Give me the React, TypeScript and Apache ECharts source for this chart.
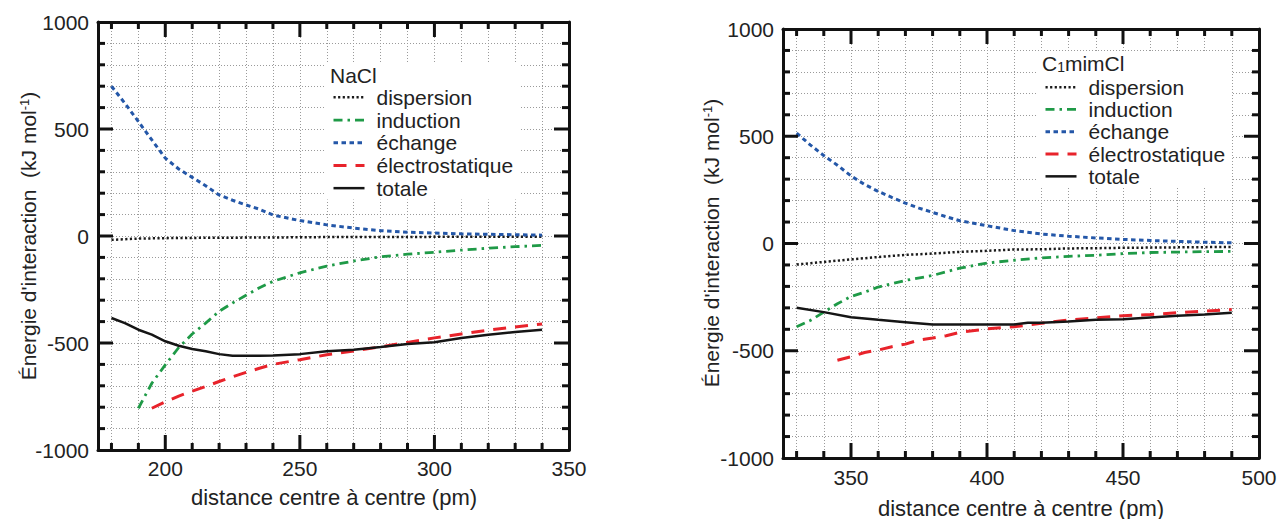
import { useEffect, useRef } from 'react';
import * as echarts from 'echarts';

const FONT = '"Liberation Sans", Arial, Helvetica, sans-serif';

const seriesNames = ['dispersion', 'induction', 'échange', 'électrostatique', 'totale'];

const leftXRange = [175, 350];
const rightXRange = [325, 500];
const yRange = [-1000, 1000];
const leftMajorTicks = [200, 250, 300, 350];
const leftMinorTicks = [180, 190, 200, 210, 220, 230, 240, 250, 260, 270, 280, 290, 300, 310, 320, 330, 340];
const rightMajorTicks = [350, 400, 450, 500];
const rightMinorTicks = [330, 340, 350, 360, 370, 380, 390, 400, 410, 420, 430, 440, 450, 460, 470, 480, 490];
const yMinorTicks = [-900, -800, -700, -600, -500, -400, -300, -200, -100, 0, 100, 200, 300, 400, 500, 600, 700, 800, 900];
const yMajorTicks = [-500, 0, 500];

const naclDispX = [180, 190, 200, 220, 240, 260, 280, 300, 320, 340];
const naclDisp = [-18, -12, -10, -8, -7, -5, -5, -4, -4, -3];
const naclIndX = [190, 195, 200, 205, 210, 215, 220, 225, 230, 235, 240, 250, 260, 270, 280, 290, 300, 310, 320, 330, 340];
const naclInd = [-805, -688, -602, -521, -458, -407, -352, -313, -277, -242, -212, -172, -141, -117, -97, -85, -76, -66, -57, -50, -44];
const naclExchX = [180, 185, 190, 195, 200, 205, 210, 215, 220, 225, 230, 235, 240, 250, 260, 270, 280, 290, 300, 310, 320, 330, 340];
const naclExch = [700, 620, 535, 449, 364, 313, 274, 235, 192, 167, 145, 125, 98, 72, 52, 37, 25, 18, 14, 10, 8, 6, 4];
const naclElecX = [195, 200, 205, 210, 215, 220, 225, 230, 235, 240, 250, 260, 270, 280, 290, 300, 310, 320, 330, 340];
const naclElec = [-805, -775, -748, -725, -703, -680, -658, -637, -618, -600, -578, -555, -537, -518, -497, -476, -458, -440, -425, -411];
const naclTotX = [180, 185, 190, 195, 200, 205, 210, 215, 220, 225, 230, 235, 240, 250, 260, 270, 280, 290, 300, 310, 320, 330, 340];
const naclTot = [-383, -407, -438, -461, -492, -513, -528, -539, -552, -560, -560, -560, -558, -552, -539, -531, -519, -505, -496, -477, -461, -449, -438];

const mimDispX = [330, 340, 350, 360, 370, 380, 390, 400, 410, 420, 430, 440, 450, 460, 470, 480, 490];
const mimDisp = [-98, -86, -74, -63, -53, -47, -39, -34, -28, -27, -23, -22, -20, -19, -18, -17, -16];
const mimIndX = [330, 335, 340, 345, 350, 355, 360, 370, 380, 390, 400, 410, 420, 430, 440, 450, 460, 470, 480, 490];
const mimInd = [-388, -359, -320, -281, -247, -227, -203, -172, -149, -115, -91, -78, -67, -60, -55, -47, -42, -40, -38, -37];
const mimExchX = [330, 335, 340, 345, 350, 355, 360, 365, 370, 375, 380, 385, 390, 400, 410, 420, 430, 440, 450, 460, 470, 480, 490];
const mimExch = [515, 460, 410, 365, 315, 275, 243, 215, 188, 165, 145, 125, 106, 83, 60, 44, 34, 26, 19, 14, 10, 6, 3];
const mimElecX = [345, 350, 355, 360, 365, 370, 375, 380, 385, 390, 400, 410, 420, 430, 440, 450, 460, 470, 480, 490];
const mimElec = [-544, -528, -508, -497, -481, -469, -450, -441, -430, -414, -398, -388, -372, -356, -347, -337, -331, -323, -315, -308];
const mimTotX = [330, 340, 350, 360, 370, 380, 390, 400, 410, 415, 420, 430, 440, 450, 460, 470, 480, 490];
const mimTot = [-300, -320, -344, -356, -367, -378, -378, -378, -378, -370, -370, -364, -356, -353, -345, -337, -331, -323];

const lineStyles: Record<string, any> = {
  dispersion: { color: '#1a1a1a', width: 2.5, type: [2.2, 2.4] },
  induction: { color: '#1f9a47', width: 2.8, type: [9, 5, 2.5, 5] },
  'échange': { color: '#2457a8', width: 3, type: [4.5, 3.5] },
  'électrostatique': { color: '#e8232b', width: 3, type: [13, 9] },
  totale: { color: '#151515', width: 2.5, type: 'solid' },
};

const zip = (xs: number[], ys: number[]) => xs.map((x, i) => [x, ys[i]]);

const gridLine = () => ({ color: '#9a9a9a', width: 1, type: [1, 2] });
const frameColor = '#111';
const frameWidth = 3;
const MAJOR_LEN = 15;
const MINOR_LEN = 7;

function xAxes(gi: number, range: number[], majors: number[], minors: number[], labelMargin: number) {
  const base = { type: 'value', gridIndex: gi, min: range[0], max: range[1] };
  return [
    {
      ...base, position: 'bottom',
      axisLine: { show: true, onZero: false, lineStyle: { color: frameColor, width: frameWidth } },
      axisTick: { show: false, customValues: majors },
      axisLabel: { show: true, customValues: majors, fontSize: 21, fontFamily: FONT, color: '#222', margin: labelMargin },
      splitLine: { show: false },
    },
    {
      ...base, position: 'bottom',
      axisLine: { show: false, onZero: false },
      axisTick: { show: false, customValues: minors },
      axisLabel: { show: false },
      splitLine: { show: true, lineStyle: gridLine() },
    },
    {
      ...base, position: 'top',
      axisLine: { show: true, onZero: false, lineStyle: { color: frameColor, width: frameWidth } },
      axisTick: { show: false },
      axisLabel: { show: false },
      splitLine: { show: false },
    },
  ];
}

function yAxes(gi: number) {
  const base = { type: 'value', gridIndex: gi, min: yRange[0], max: yRange[1], interval: 500 };
  return [
    {
      ...base, position: 'left',
      axisLine: { show: true, onZero: false, lineStyle: { color: frameColor, width: frameWidth } },
      axisTick: { show: false },
      axisLabel: { show: true, fontSize: 21, fontFamily: FONT, color: '#222', margin: 9, formatter: (v: number) => String(v) },
      splitLine: { show: true, lineStyle: gridLine() },
      minorSplitLine: { show: true, lineStyle: gridLine() },
    },
    {
      ...base, position: 'right',
      axisLine: { show: true, onZero: false, lineStyle: { color: frameColor, width: frameWidth } },
      axisTick: { show: false },
      axisLabel: { show: false },
      splitLine: { show: false },
    },
  ];
}

function makeSeries(gi: number, sets: [number[], number[]][]) {
  return seriesNames.map((name, k) => {
    const st = lineStyles[name];
    return {
      type: 'line',
      name,
      xAxisIndex: gi * 3,
      yAxisIndex: gi * 2,
      data: zip(sets[k][0], sets[k][1]),
      symbol: 'none',
      silent: true,
      z: 3,
      lineStyle: { color: st.color, width: st.width, type: st.type, cap: 'butt' },
      itemStyle: { color: st.color },
    };
  });
}

function makeLegend(left: number, top: number, padTop: number, lh: number) {
  return {
    orient: 'vertical',
    left,
    top,
    padding: [padTop, 6, 0, 6],
    backgroundColor: '#fff',
    itemWidth: 31,
    itemHeight: 14,
    itemGap: 0,
    selectedMode: false,
    z: 5,
    textStyle: { fontSize: 21, fontFamily: FONT, color: '#222', lineHeight: lh, padding: [0, 0, 0, 7] },
    data: seriesNames.map((n) => ({
      name: n,
      itemStyle: { opacity: 0 },
      lineStyle: { color: lineStyles[n].color, width: lineStyles[n].width, type: lineStyles[n].type },
    })),
  };
}

const titleStyle = { fontSize: 22, fontFamily: FONT, fill: '#222', align: 'center', verticalAlign: 'middle' };
const yTitleStyle = { fontSize: 21, fontFamily: FONT, fill: '#222', align: 'center', verticalAlign: 'middle' };
const yTitle = "Énergie d'interaction  (kJ mol{sup|-1})";
const supRich = { sup: { fontSize: 13, fontFamily: FONT, fill: '#222', verticalAlign: 'top' } };

const textGraphics = [
  { type: 'text', z: 20, x: 330, y: 75, style: { text: 'NaCl', fontSize: 21, fontFamily: FONT, fill: '#222', align: 'left', verticalAlign: 'middle' } },
  {
    type: 'text', z: 20, x: 1042, y: 63,
    style: {
      text: 'C{sub|1}mimCl', fontSize: 21, fontFamily: FONT, fill: '#222', align: 'left', verticalAlign: 'middle',
      rich: { sub: { fontSize: 14, fontFamily: FONT, fill: '#222', verticalAlign: 'bottom' } },
    },
  },
  { type: 'text', z: 20, x: 334, y: 497, style: { ...titleStyle, text: 'distance centre à centre (pm)' } },
  { type: 'text', z: 20, x: 1021, y: 508, style: { ...titleStyle, text: 'distance centre à centre (pm)' } },
  { type: 'text', z: 20, x: 28, y: 236, rotation: Math.PI / 2, style: { ...yTitleStyle, text: yTitle, rich: supRich } },
  { type: 'text', z: 20, x: 711, y: 243, rotation: Math.PI / 2, style: { ...yTitleStyle, text: yTitle, rich: supRich } },
];

// inward tick marks on the four sides, positioned with the chart's own scales
function tickGraphics(chart: any, gi: number, xRange: number[], xMinors: number[], xMajors: number[]) {
  const finder = { xAxisIndex: gi * 3, yAxisIndex: gi * 2 };
  const out: any[] = [];
  const w = 3;
  const rect = (x: number, y: number, width: number, height: number) => ({
    type: 'rect', z: 30,
    shape: { x, y, width, height },
    style: { fill: frameColor },
  });
  xMinors.forEach((v) => {
    const len = xMajors.includes(v) ? MAJOR_LEN : MINOR_LEN;
    const b = chart.convertToPixel(finder, [v, yRange[0]]);
    const t = chart.convertToPixel(finder, [v, yRange[1]]);
    out.push(rect(b[0] - w / 2, b[1] - len, w, len));
    out.push(rect(t[0] - w / 2, t[1], w, len));
  });
  yMinorTicks.forEach((v) => {
    const len = yMajorTicks.includes(v) ? MAJOR_LEN : MINOR_LEN;
    const l = chart.convertToPixel(finder, [xRange[0], v]);
    const r = chart.convertToPixel(finder, [xRange[1], v]);
    out.push(rect(l[0], l[1] - w / 2, len, w));
    out.push(rect(r[0] - len, r[1] - w / 2, len, w));
  });
  return out;
}

export default function App() {
  const ref = useRef<HTMLDivElement>(null);
  useEffect(() => {
    if (!ref.current) return;
    const chart = echarts.init(ref.current, null, { renderer: 'svg' });
    const option: any = {
      animation: false,
      backgroundColor: '#fff',
      grid: [
        { left: 98, top: 22, width: 471, height: 428 },
        { left: 783, top: 29, width: 476, height: 429 },
      ],
      xAxis: [
        ...xAxes(0, leftXRange, leftMajorTicks, leftMinorTicks, 8),
        ...xAxes(1, rightXRange, rightMajorTicks, rightMinorTicks, 9),
      ],
      yAxis: [...yAxes(0), ...yAxes(1)],
      legend: [makeLegend(326, 63, 23, 22.7), makeLegend(1038, 51, 25, 22.3)],
      series: [
        ...makeSeries(0, [
          [naclDispX, naclDisp],
          [naclIndX, naclInd],
          [naclExchX, naclExch],
          [naclElecX, naclElec],
          [naclTotX, naclTot],
        ]),
        ...makeSeries(1, [
          [mimDispX, mimDisp],
          [mimIndX, mimInd],
          [mimExchX, mimExch],
          [mimElecX, mimElec],
          [mimTotX, mimTot],
        ]),
      ],
      graphic: textGraphics,
    };
    chart.setOption(option);
    const ticks = [
      ...tickGraphics(chart, 0, leftXRange, leftMinorTicks, leftMajorTicks),
      ...tickGraphics(chart, 1, rightXRange, rightMinorTicks, rightMajorTicks),
    ];
    chart.setOption({ graphic: [...textGraphics, ...ticks] });
    return () => chart.dispose();
  }, []);
  return <div ref={ref} style={{ position: 'absolute', left: 0, top: 0, width: 1281, height: 519 }} />;
}
